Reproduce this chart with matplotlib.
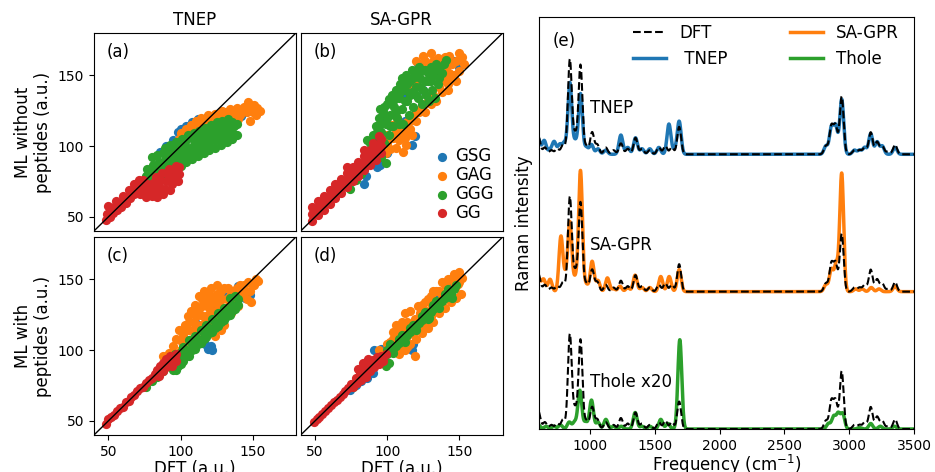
import numpy as np
import matplotlib
matplotlib.use("Agg")
import matplotlib.pyplot as plt

plt.rcParams['font.size'] = 12

# ---------------- polarizability parity data (DFT, ML) ----------------
groups = ["GSG", "GAG", "GGG", "GG"]
colors = ["#1f77b4", "#ff7f0e", "#2ca02c", "#d62728"]

# (a) TNEP, trained without peptides
gsg_a = [(86, 96), (90, 100), (95, 104), (98, 110), (100, 112), (104, 114), (108, 117), (112, 119),
         (118, 120), (124, 122), (130, 124), (138, 125), (145, 124), (149, 126), (152, 123),
         (110, 113), (120, 116), (132, 119), (142, 121)]
gag_a = [(99, 105), (100, 109), (103, 106), (104, 112), (107, 109), (107, 115), (110, 112), (111, 118),
         (113, 115), (114, 120), (117, 113), (117, 118), (119, 122), (121, 116), (122, 120), (124, 123),
         (126, 118), (127, 122), (129, 125), (131, 120), (132, 124), (134, 126), (136, 121), (137, 124),
         (139, 127), (141, 122), (142, 125), (144, 128), (146, 124), (147, 131), (148, 127), (150, 124),
         (151, 129), (153, 127), (155, 125), (148, 118), (152, 122), (140, 119)]
ggg_a = [(76, 74), (76, 79), (77, 84), (80, 77), (80, 82), (81, 87), (80, 92), (84, 79), (84, 84), (85, 89),
         (84, 94), (88, 80), (88, 85), (89, 90), (88, 95), (89, 99), (92, 82), (92, 87), (93, 92), (92, 97),
         (93, 101), (96, 84), (96, 89), (97, 94), (96, 99), (97, 103), (100, 86), (100, 91), (101, 96),
         (100, 101), (101, 105), (104, 89), (104, 94), (105, 99), (104, 104), (105, 108), (108, 91),
         (108, 96), (109, 101), (108, 106), (109, 109), (112, 93), (112, 98), (113, 103), (112, 108),
         (113, 111), (116, 95), (116, 100), (117, 105), (116, 110), (117, 113), (120, 97), (120, 102),
         (121, 107), (120, 111), (121, 115), (124, 99), (124, 104), (125, 109), (124, 113), (125, 117),
         (128, 101), (128, 106), (129, 110), (128, 114), (129, 118), (132, 103), (132, 108), (133, 112),
         (132, 116), (133, 119), (136, 105), (136, 110), (137, 114), (136, 117), (139, 108), (139, 116)]
gg_a = [(48, 48), (49, 52), (51, 50), (51, 56), (53, 53), (54, 57), (56, 55), (57, 59), (59, 57), (60, 61),
        (62, 60), (63, 64), (65, 63), (66, 67), (68, 66), (69, 70), (71, 69), (72, 73), (74, 72), (74, 76),
        (50, 58), (55, 61), (60, 65), (64, 69), (68, 73), (71, 76),
        (72, 66), (73, 70), (76, 64), (76, 68), (77, 73), (80, 65), (80, 69), (81, 74), (83, 78),
        (84, 64), (84, 68), (85, 72), (86, 76), (87, 81), (88, 66), (89, 70), (90, 75), (91, 80), (92, 84),
        (93, 69), (94, 73), (95, 78), (96, 83), (97, 86), (98, 75), (99, 80), (99, 85)]

# (b) SA-GPR, trained without peptides
gsg_b = [(84, 73), (85, 79), (93, 85), (95, 87), (100, 95), (105, 136), (108, 110), (112, 118),
         (117, 101), (119, 107), (121, 158), (125, 140), (130, 150), (138, 155), (143, 161), (150, 156),
         (146, 160), (98, 120), (110, 135)]
gag_b = [(120, 160), (125, 164), (130, 166), (135, 162), (140, 163), (145, 158), (150, 166), (153, 158),
         (146, 150), (150, 153), (141, 155), (136, 157), (128, 158), (123, 155), (126, 160), (132, 160),
         (138, 160), (143, 164), (148, 160), (152, 163), (133, 152), (138, 149), (143, 152), (148, 146),
         (142, 144), (116, 144), (120, 146),
         (88, 90), (92, 94), (96, 98), (100, 102), (104, 106), (108, 104), (110, 110), (113, 101),
         (113, 111), (114, 117), (118, 120), (120, 125), (124, 128), (128, 132), (132, 136), (136, 142),
         (140, 146), (144, 148), (103, 115), (107, 120), (111, 96), (100, 108), (116, 112), (96, 104),
         (106, 99), (99, 95), (112, 106), (116, 118), (120, 118), (122, 124), (126, 124), (130, 130),
         (134, 132), (138, 138), (142, 140), (117, 108), (106, 110), (102, 98)]
ggg_b = [(74, 70), (78, 76), (82, 80), (86, 88), (88, 96), (86, 104), (90, 100), (90, 108), (92, 114),
         (94, 104), (94, 120), (96, 110), (97, 124), (98, 102), (99, 116), (100, 130), (101, 108),
         (102, 122), (103, 136), (104, 114), (105, 128), (106, 140), (107, 120), (108, 134), (109, 144),
         (110, 126), (111, 116), (112, 140), (113, 150), (114, 132), (115, 122), (116, 146), (117, 138),
         (118, 128), (119, 152), (120, 142), (121, 134), (122, 156), (123, 148), (124, 130), (125, 140),
         (126, 154), (127, 136), (128, 146), (130, 156), (131, 140), (132, 150), (134, 158), (135, 144),
         (137, 152), (139, 158), (141, 161), (133, 134), (129, 132), (99, 88), (96, 92),
         (88, 102), (92, 106), (96, 116), (98, 128), (100, 120), (102, 114), (104, 132), (106, 124),
         (108, 116), (109, 138), (110, 148), (112, 132), (114, 144), (116, 136), (117, 154), (118, 148),
         (120, 136), (121, 150), (123, 142), (124, 154), (126, 146), (128, 152), (130, 146), (133, 154),
         (136, 156), (136, 148), (138, 152), (93, 110), (95, 126), (101, 133)]
gg_b = [(48, 47), (48, 52), (48, 57), (52, 51), (52, 56), (52, 61), (56, 55), (56, 60), (56, 65), (60, 59),
        (60, 64), (60, 69), (64, 63), (64, 68), (64, 73), (68, 67), (68, 72), (68, 77), (72, 71), (72, 76),
        (72, 81), (72, 85), (76, 75), (76, 80), (76, 85), (80, 79), (80, 84), (80, 89), (84, 83), (84, 88),
        (84, 93), (84, 97), (88, 87), (88, 92), (88, 97), (90, 102), (92, 90), (92, 96), (92, 101),
        (94, 107), (96, 95), (96, 100), (96, 105)]

# (c) TNEP, trained with peptides
gsg_c = [(103, 115), (117, 104), (119, 101), (121, 103), (122, 100), (145, 137), (148, 139), (110, 120),
         (125, 130), (135, 135), (140, 145), (130, 138)]
gag_c = [(88, 96), (92, 98), (95, 103), (97, 108), (99, 114), (100, 100), (102, 110), (103, 118),
         (104, 104), (105, 124), (106, 114), (107, 128), (108, 108), (109, 120), (110, 132), (111, 112),
         (112, 126), (113, 138), (114, 118), (115, 131), (116, 142), (117, 110), (118, 124), (119, 136),
         (120, 114), (121, 144), (122, 128), (123, 120), (124, 138), (125, 146), (126, 124), (127, 132),
         (128, 142), (130, 118), (131, 128), (132, 136), (133, 144), (135, 126), (136, 134), (138, 140),
         (140, 131), (141, 146), (143, 138), (145, 142), (147, 148), (149, 134), (150, 146), (152, 150),
         (154, 149), (124, 110), (128, 114), (101, 106), (104, 114), (106, 120), (108, 126), (110, 116),
         (111, 124), (113, 130), (115, 136), (117, 120), (118, 132), (120, 140), (121, 124), (123, 134),
         (125, 140), (127, 138), (129, 136), (130, 144), (132, 130), (134, 138), (136, 142), (138, 134),
         (139, 144), (142, 142), (144, 146), (146, 136), (148, 142), (151, 146), (120, 130), (114, 125),
         (126, 130)]
ggg_c = [(76, 74), (80, 78), (84, 81), (88, 85), (92, 89), (95, 86), (96, 93), (98, 89), (100, 96),
         (102, 92), (104, 100), (106, 96), (108, 104), (110, 101), (112, 108), (114, 105), (116, 112),
         (118, 109), (120, 116), (122, 113), (124, 120), (126, 117), (128, 124), (130, 121), (132, 128),
         (134, 125), (136, 132), (138, 129), (140, 136), (134, 137), (126, 126), (118, 118), (110, 110),
         (102, 102), (100, 90), (97, 86), (96, 97), (100, 99), (104, 96), (108, 100), (112, 104),
         (116, 108), (120, 112), (124, 116), (128, 120), (132, 124), (136, 128), (140, 132), (106, 107),
         (114, 114), (122, 122), (130, 130), (138, 138)]
gg_c = [(48, 48), (50, 51), (52, 53), (54, 54), (56, 57), (58, 59), (60, 60), (62, 63), (64, 64), (66, 67),
        (68, 68), (70, 71), (72, 73), (74, 74), (76, 77), (78, 79), (80, 80), (82, 83), (84, 86), (85, 82),
        (86, 89), (88, 85), (88, 91), (90, 88), (90, 94), (92, 91), (93, 96), (94, 89), (95, 94), (97, 92),
        (97, 97)]

# (d) SA-GPR, trained with peptides
gsg_d = [(74, 72), (78, 75), (82, 78), (86, 80), (90, 84), (91, 100), (94, 98), (96, 101), (118, 104),
         (117, 100), (135, 140), (144, 149), (146, 150), (105, 108), (125, 125), (110, 104)]
gag_d = [(94, 100), (98, 96), (100, 104), (102, 99), (104, 108), (106, 102), (107, 112), (108, 97),
         (110, 106), (111, 116), (112, 100), (113, 110), (114, 120), (116, 104), (117, 114), (116, 128),
         (119, 96), (120, 108), (121, 118), (121, 131), (124, 112), (125, 122), (126, 134), (128, 116),
         (129, 126), (130, 138), (132, 120), (133, 130), (134, 142), (136, 126), (137, 136), (138, 148),
         (140, 130), (141, 140), (142, 150), (144, 134), (145, 144), (146, 154), (148, 137), (149, 147),
         (150, 155), (152, 151), (147, 137), (104, 113), (106, 118), (108, 114), (110, 120), (112, 126),
         (114, 110), (115, 116), (118, 112), (119, 122), (122, 114), (123, 126), (124, 132), (126, 118),
         (127, 128), (128, 136), (130, 124), (131, 132), (132, 142), (135, 132), (136, 142), (139, 136),
         (140, 146), (143, 142), (144, 150), (147, 144), (148, 152), (150, 148), (151, 140), (110, 100),
         (114, 102), (102, 106)]
ggg_d = [(76, 74), (80, 78), (84, 82), (88, 86), (92, 90), (96, 93), (99, 89), (100, 97), (101, 91),
         (104, 101), (108, 105), (112, 109), (116, 113), (120, 117), (124, 121), (128, 125), (129, 123),
         (132, 129), (136, 133), (140, 137), (144, 140), (145, 137), (148, 146), (110, 111), (118, 118),
         (126, 127), (134, 135), (142, 143), (102, 104), (98, 95), (106, 103), (114, 111), (122, 119),
         (130, 127), (138, 135), (146, 143), (104, 98), (112, 106), (120, 114), (128, 122), (136, 130),
         (143, 138), (100, 100), (108, 108), (116, 116), (124, 124), (132, 132), (140, 140)]
gg_d = [(49, 49), (51, 51), (53, 53), (55, 55), (57, 57), (59, 59), (61, 61), (63, 63), (65, 65), (67, 67),
        (69, 69), (71, 71), (73, 73), (75, 76), (76, 74), (78, 80), (79, 77), (81, 83), (82, 79), (84, 86),
        (85, 81), (87, 90), (88, 85), (90, 93), (91, 88), (93, 95), (94, 90), (96, 96), (97, 92), (99, 97),
        (80, 87), (83, 91), (87, 94)]

panels = [
    ("(a)", [gsg_a, gag_a, ggg_a, gg_a]),
    ("(b)", [gsg_b, gag_b, ggg_b, gg_b]),
    ("(c)", [gsg_c, gag_c, ggg_c, gg_c]),
    ("(d)", [gsg_d, gag_d, ggg_d, gg_d]),
]

# ---------------- Raman spectra: stick positions (cm-1) and intensities ----------------
dft_pos = [600, 650, 700, 745, 790, 843, 884, 925, 970, 1015, 1055, 1120, 1180, 1237, 1290, 1350, 1400,
           1460, 1530, 1580, 1630, 1687, 2820, 2862, 2895, 2942, 3040, 3080, 3120, 3166, 3215, 3255,
           3300, 3354]
dft_int = [0.13, 0.05, 0.03, 0.04, 0.07, 0.69, 0.14, 0.65, 0.06, 0.16, 0.07, 0.05, 0.03, 0.08, 0.04, 0.12,
           0.04, 0.03, 0.05, 0.06, 0.05, 0.20, 0.06, 0.20, 0.20, 0.42, 0.03, 0.03, 0.05, 0.16, 0.09, 0.06,
           0.02, 0.07]

tnep_pos = [600, 645, 690, 722, 765, 800, 843, 884, 925, 970, 1010, 1060, 1120, 1237, 1290, 1350, 1400,
            1460, 1530, 1608, 1650, 1687, 2820, 2862, 2895, 2942, 3040, 3080, 3120, 3166, 3215, 3255,
            3354]
tnep_int = [0.11, 0.10, 0.03, 0.09, 0.07, 0.08, 0.52, 0.09, 0.44, 0.05, 0.07, 0.04, 0.03, 0.14, 0.05, 0.12,
            0.04, 0.04, 0.05, 0.22, 0.03, 0.24, 0.06, 0.19, 0.20, 0.40, 0.03, 0.03, 0.05, 0.15, 0.09, 0.06,
            0.05]

sagpr_pos = [600, 640, 690, 774, 810, 843, 884, 925, 970, 1015, 1060, 1133, 1180, 1230, 1290, 1347, 1400,
             1460, 1545, 1610, 1687, 2820, 2862, 2900, 2942, 3050, 3100, 3170, 3230, 3354]
sagpr_int = [0.10, 0.09, 0.09, 0.40, 0.10, 0.50, 0.09, 0.88, 0.05, 0.22, 0.08, 0.10, 0.02, 0.04, 0.03, 0.12,
             0.03, 0.03, 0.11, 0.11, 0.16, 0.05, 0.16, 0.20, 0.86, 0.02, 0.02, 0.03, 0.02, 0.04]

thole_pos = [600, 660, 720, 770, 838, 880, 920, 965, 1010, 1060, 1121, 1180, 1240, 1347, 1400, 1460, 1545,
             1600, 1692, 2840, 2880, 2915, 2950, 3080, 3166, 3240, 3350]
thole_int = [0.03, 0.02, 0.02, 0.03, 0.05, 0.05, 0.28, 0.05, 0.21, 0.05, 0.07, 0.02, 0.02, 0.12, 0.02, 0.02,
             0.07, 0.04, 0.65, 0.04, 0.09, 0.11, 0.11, 0.01, 0.04, 0.02, 0.02]

freq = np.linspace(600, 3500, 2901)


def broaden(pos, inten, sigma=15.0):
    pos = np.asarray(pos, float)[:, None]
    inten = np.asarray(inten, float)[:, None]
    return np.sum(inten * np.exp(-(freq - pos) ** 2 / (2 * sigma ** 2)), axis=0)


fig = plt.figure(figsize=(9.35, 4.72), dpi=100)

w, h = 0.216, 0.4195
axes_pos = [(0.1005, 0.5106), (0.3216, 0.5106), (0.1005, 0.0784), (0.3216, 0.0784)]
for i, (tag, clouds) in enumerate(panels):
    ax = fig.add_axes([axes_pos[i][0], axes_pos[i][1], w, h])
    for name, col, pts in zip(groups, colors, clouds):
        pts = np.array(pts, float)
        ax.scatter(pts[:, 0], pts[:, 1], s=44, color=col, label=name, linewidths=0)
    ax.plot([40, 180], [40, 180], color="black", lw=1)
    ax.set_xlim(40, 180)
    ax.set_ylim(40, 180)
    ax.set_xticks([50, 100, 150])
    ax.set_yticks([50, 100, 150])
    ax.tick_params(labelsize=10)
    ax.text(0.065, 0.88, tag, transform=ax.transAxes, fontsize=12)
    if i in (0, 1):
        ax.tick_params(bottom=False, labelbottom=False)
    if i in (1, 3):
        ax.tick_params(left=False, labelleft=False)
    if i == 0:
        ax.set_title("TNEP", fontsize=12)
        ax.set_ylabel("ML without\npeptides (a.u.)")
    if i == 1:
        ax.set_title("SA-GPR", fontsize=12)
        ax.legend(loc="lower right", frameon=False, handlelength=0.8, handletextpad=0.4,
                  labelspacing=0.05, borderaxespad=0.15)
    if i == 2:
        ax.set_ylabel("ML with\npeptides (a.u.)")
    if i in (2, 3):
        ax.set_xlabel("DFT (a.u.)", labelpad=1)

# spectra panel
ax = fig.add_axes([0.5765, 0.0911, 0.401, 0.873])
dft = broaden(dft_pos, dft_int)
models = [("TNEP", tnep_pos, tnep_int, colors[0], 2.0, "TNEP"),
          ("SA-GPR", sagpr_pos, sagpr_int, colors[1], 1.0, "SA-GPR"),
          ("Thole", thole_pos, thole_int, colors[2], 0.0, "Thole x20")]
handles = {}
for name, pos, inten, col, off, tag in models:
    ln, = ax.plot(freq, broaden(pos, inten) + off, color=col, lw=2.5)
    dl, = ax.plot(freq, dft + off, color="black", ls="--", lw=1.5)
    handles[name] = ln
    handles["DFT"] = dl
    ax.text(1000, off + 0.34, tag, fontsize=12, va="center")
ax.legend([handles["DFT"], handles["TNEP"], handles["SA-GPR"], handles["Thole"]],
          ["DFT", " TNEP", "SA-GPR", "Thole"], ncol=2, frameon=False, loc="upper left",
          bbox_to_anchor=(0.232, 1.0), borderaxespad=0, columnspacing=3.7)
ax.text(0.037, 0.942, "(e)", transform=ax.transAxes, fontsize=12, va="center")
ax.set_xlim(605, 3500)
ax.set_ylim(0, 3.0)
ax.set_yticks([])
ax.set_xticks([1000, 1500, 2000, 2500, 3000, 3500])
ax.tick_params(labelsize=10)
ax.set_xlabel("Frequency (cm$^{-1}$)", labelpad=0)
ax.set_ylabel("Raman intensity")

fig.savefig("out.png", dpi=100)
